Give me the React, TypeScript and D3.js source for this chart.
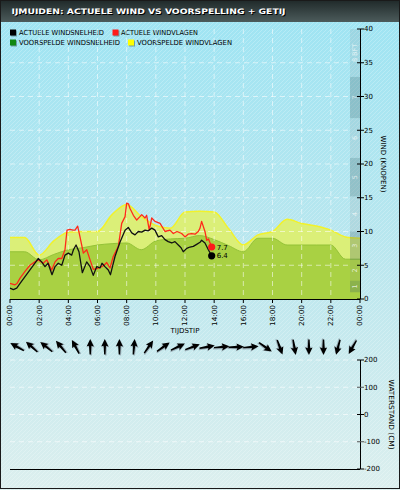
import React from "react";
import * as d3 from "d3";

// ---- data ----
const hourTicks = [0, 2, 4, 6, 8, 10, 12, 14, 16, 18, 20, 22, 24];
const hourTickLabels = ["00:00", "02:00", "04:00", "06:00", "08:00", "10:00", "12:00", "14:00", "16:00", "18:00", "20:00", "22:00", "00:00"];
const windTicks = [0, 5, 10, 15, 20, 25, 30, 35, 40];
const tideTicks = [-200, -100, 0, 100, 200];

const forecastHours = [0, 1, 2, 3, 4, 5, 6, 7, 8, 9, 10, 11, 12, 13, 14, 15, 16, 17, 18, 19, 20, 21, 22, 23, 24];
const forecastGust = [9.1, 9.1, 6.5, 8.6, 9.9, 10, 10, 12.5, 14.0, 12.2, 10.9, 10.5, 12.9, 13.0, 12.9, 10.4, 8.0, 9.5, 10, 11.8, 11.2, 10.8, 10.2, 9.2, 9.0];
const forecastWind = [7.0, 7.0, 5.8, 6.6, 7.3, 7.6, 8.0, 8.2, 8.3, 7.3, 8.6, 8.9, 9.0, 9.4, 8.8, 7.9, 7.0, 9.0, 9.0, 8.0, 8.0, 8.0, 8.0, 5.9, 5.9];

const actualWindHours = [0.00, 0.23, 0.46, 0.69, 1.03, 1.37, 1.71, 1.94, 2.17, 2.40, 2.61, 2.88, 3.09, 3.31, 3.55, 3.77, 4.00, 4.23, 4.35, 4.53, 4.73, 4.96, 5.26, 5.49, 5.71, 5.95, 6.17, 6.31, 6.51, 6.74, 6.89, 7.20, 7.54, 7.89, 8.11, 8.35, 8.57, 8.80, 9.03, 9.26, 9.48, 9.72, 9.94, 10.17, 10.40, 10.63, 10.85, 11.09, 11.31, 11.54, 11.73, 11.88, 12.12, 12.34, 12.57, 12.80, 13.03, 13.14, 13.37, 13.60, 13.83];
const actualWind = [1.6, 1.4, 1.6, 2.3, 3.3, 4.3, 5.3, 6.0, 5.5, 4.8, 5.3, 3.6, 4.8, 5.3, 5.0, 6.5, 6.8, 6.5, 7.3, 8.0, 7.0, 3.9, 5.5, 4.8, 3.5, 4.8, 4.6, 5.3, 4.8, 4.3, 3.6, 6.3, 8.4, 10.2, 10.6, 9.8, 9.5, 10.0, 9.9, 10.2, 10.1, 10.5, 10.2, 9.2, 9.4, 8.8, 8.5, 8.3, 8.5, 8.0, 7.6, 7.0, 7.5, 7.7, 7.8, 8.1, 8.4, 8.7, 8.3, 7.3, 6.4];

const actualGustHours = [0.00, 0.34, 0.48, 0.69, 1.03, 1.37, 1.71, 1.94, 2.28, 2.52, 2.86, 3.09, 3.31, 3.55, 3.77, 3.91, 4.11, 4.32, 4.46, 4.64, 4.80, 5.03, 5.26, 5.49, 5.71, 5.95, 6.29, 6.45, 6.63, 6.86, 7.08, 7.43, 7.66, 7.89, 8.00, 8.12, 8.23, 8.46, 8.69, 8.91, 9.03, 9.26, 9.37, 9.55, 9.72, 9.94, 10.29, 10.63, 10.97, 11.20, 11.45, 11.77, 12.00, 12.21, 12.46, 12.69, 12.91, 13.03, 13.14, 13.37, 13.49, 13.61, 13.83];
const actualGust = [2.3, 2.1, 2.3, 3.1, 4.1, 5.0, 5.5, 5.8, 5.3, 5.8, 4.3, 5.5, 6.0, 6.0, 7.3, 10.2, 10.3, 10.2, 10.2, 10.8, 9.2, 6.8, 7.3, 5.8, 4.4, 4.5, 4.8, 5.0, 5.4, 4.6, 6.3, 7.8, 11.2, 12.2, 14.2, 14.1, 13.4, 12.4, 11.7, 12.2, 12.5, 12.0, 12.4, 10.2, 12.0, 11.5, 11.2, 10.0, 10.2, 9.7, 10.0, 9.7, 9.2, 9.6, 9.7, 9.6, 10.0, 10.5, 11.5, 10.0, 8.7, 8.9, 7.7];

const arrowHours = [0.5, 1.5, 2.5, 3.5, 4.5, 5.5, 6.5, 7.5, 8.5, 9.5, 10.5, 11.5, 12.5, 13.5, 14.5, 15.5, 16.5, 17.5, 18.5, 19.5, 20.5, 21.5, 22.5, 23.5];
const arrowDirections = [299, 312, 309, 320, 332, 0, 0, 0, 5, 35, 55, 65, 70, 80, 85, 88, 85, 125, 160, 170, 180, 180, 195, 210];

const bftBounds = [1, 2.7, 5.8, 10, 15.2, 20.9, 26.8, 32.9, 40];
const bftLabels = ["1", "2", "3", "4", "5", "6", "7", "8 BFT"];

const legendLabels = ["ACTUELE WINDSNELHEID", "ACTUELE WINDVLAGEN", "VOORSPELDE WINDSNELHEID", "VOORSPELDE WINDVLAGEN"];
const titleText = "IJMUIDEN: ACTUELE WIND VS VOORSPELLING + GETIJ";

const FONT = "'DejaVu Sans', sans-serif";
const ARROW = "M0,-8 L3.6,-0.5 L1.2,-1.3 L0.7,7.5 L-0.7,7.5 L-1.2,-1.3 L-3.6,-0.5 Z";

export default function App() {
  const x = d3.scaleLinear().domain([0, 24]).range([10, 360]);
  const y = d3.scaleLinear().domain([0, 40]).range([299, 29]);
  const yt = d3.scaleLinear().domain([-200, 200]).range([469, 360]);

  const fc = forecastHours.map((h, i) => ({ h, g: forecastGust[i], w: forecastWind[i] }));
  const areaG = d3.area<any>().x(d => x(d.h)).y0(y(0)).y1(d => y(d.g)).curve(d3.curveMonotoneX);
  const areaW = d3.area<any>().x(d => x(d.h)).y0(y(0)).y1(d => y(d.w)).curve(d3.curveMonotoneX);
  const lineG = d3.line<any>().x(d => x(d.h)).y(d => y(d.g)).curve(d3.curveMonotoneX);
  const lineW = d3.line<any>().x(d => x(d.h)).y(d => y(d.w)).curve(d3.curveMonotoneX);

  const aw = actualWindHours.map((h, i) => [x(h), y(actualWind[i])] as [number, number]);
  const ag = actualGustHours.map((h, i) => [x(h), y(actualGust[i])] as [number, number]);
  const line = d3.line();
  const lastW = aw[aw.length - 1];
  const lastG = ag[ag.length - 1];

  const legendItems = [
    { c: "#000000", tx: 19, bx: 10, by: 29.5, ty: 35.3, len: 85, label: legendLabels[0] },
    { c: "#ff1a1a", tx: 121, bx: 112.5, by: 29.5, ty: 35.3, len: 77, label: legendLabels[1] },
    { c: "#118811", tx: 19, bx: 10, by: 39.5, ty: 45.3, len: 101, label: legendLabels[2] },
    { c: "#ffff00", tx: 137, bx: 128, by: 39.5, ty: 45.3, len: 95, label: legendLabels[3] },
  ];

  return (
    <svg width={400} height={490} style={{ position: "absolute", left: 0, top: 0 }} fontFamily={FONT}>
      <defs>
        <linearGradient id="bg" x1="0" y1="0" x2="0" y2="1">
          <stop offset="0" stopColor="#9de4f3" />
          <stop offset="0.55" stopColor="#bce7ee" />
          <stop offset="1" stopColor="#dcefee" />
        </linearGradient>
        <linearGradient id="hdr" x1="0" y1="0" x2="0" y2="1">
          <stop offset="0" stopColor="#1f2929" />
          <stop offset="1" stopColor="#4c5b5b" />
        </linearGradient>
        <pattern id="stripes" width={4} height={4} patternUnits="userSpaceOnUse">
          <path d="M-1,1 l2,-2 M0,4 l4,-4 M3,5 l2,-2" stroke="#ffffff" strokeOpacity={0.22} strokeWidth={1} />
        </pattern>
      </defs>

      {/* background */}
      <rect x={0} y={0} width={400} height={490} fill="url(#bg)" />
      <rect x={0} y={0} width={400} height={490} fill="url(#stripes)" />
      <rect x={0} y={0} width={400} height={22} fill="url(#hdr)" />
      <rect x={0.5} y={0.5} width={399} height={488} fill="none" stroke="#1a1a1a" strokeWidth={1} />

      {/* title */}
      <text x={12.5} y={14.5} fill="#000" fontSize={7.5} fontWeight="bold" textLength={274} lengthAdjust="spacingAndGlyphs">{titleText}</text>
      <text x={11.5} y={13.5} fill="#ffffff" fontSize={7.5} fontWeight="bold" textLength={274} lengthAdjust="spacingAndGlyphs">{titleText}</text>

      {/* legend */}
      {legendItems.map((d, i) => (
        <g key={i}>
          <rect x={d.bx + 1} y={d.by + 1} width={6} height={6} fill="#335555" opacity={0.5} />
          <rect x={d.bx} y={d.by} width={6} height={6} fill={d.c} />
          <text x={d.tx} y={d.ty} fontSize={7} fill="#000" textLength={d.len} lengthAdjust="spacingAndGlyphs">{d.label}</text>
        </g>
      ))}

      {/* forecast areas */}
      <path d={areaG(fc) || ""} fill="#dbef78" />
      <path d={lineG(fc) || ""} fill="none" stroke="#f2f22a" strokeWidth={1.5} />
      <path d={areaW(fc) || ""} fill="#a9d143" />
      <path d={lineW(fc) || ""} fill="none" stroke="#93c237" strokeWidth={1} />

      {/* bft bands */}
      {bftLabels.map((lab, i) => {
        const lo = bftBounds[i];
        const hi = i + 1 < bftBounds.length ? bftBounds[i + 1] : 40;
        const top = y(hi), bot = y(lo);
        const cy = (top + bot) / 2;
        const odd = i % 2 === 0;
        return (
          <g key={"b" + i}>
            <rect x={350} y={top} width={10} height={bot - top}
              fill={odd ? "#3c6066" : "#808888"} fillOpacity={odd ? 0.28 : 0.14} />
            <text transform={`translate(356.5,${cy}) rotate(-90)`} textAnchor="middle" fontSize={6.5}
              fill="#ffffff" fillOpacity={0.75}>{lab}</text>
          </g>
        );
      })}

      {/* grid */}
      {windTicks.slice(1, -1).map(t => (
        <line key={"gy" + t} x1={10} x2={350} y1={y(t)} y2={y(t)} stroke="#ffffff" strokeOpacity={0.55} strokeDasharray="5,4" />
      ))}
      {hourTicks.slice(1, -1).map(t => (
        <line key={"gx" + t} x1={x(t)} x2={x(t)} y1={29} y2={299} stroke="#ffffff" strokeOpacity={0.55} strokeDasharray="5,4" />
      ))}

      {/* actual lines */}
      <path d={line(ag) || ""} fill="none" stroke="#ff2a1a" strokeWidth={1.3} strokeLinejoin="round" />
      <path d={line(aw) || ""} fill="none" stroke="#111111" strokeWidth={1.3} strokeLinejoin="round" />
      <circle cx={lastG[0]} cy={lastG[1]} r={3.6} fill="#ff1a1a" />
      <circle cx={lastW[0]} cy={lastW[1]} r={3.6} fill="#000000" />
      <text x={lastG[0] + 5} y={lastG[1] + 2.5} fontSize={7} fill="#000">{actualGust[actualGust.length - 1].toFixed(1)}</text>
      <text x={lastW[0] + 5} y={lastW[1] + 2.5} fontSize={7} fill="#000">{actualWind[actualWind.length - 1].toFixed(1)}</text>

      {/* x axis */}
      <line x1={10} x2={360} y1={299.5} y2={299.5} stroke="#000" strokeWidth={1} />
      {hourTicks.map((t, i) => (
        <g key={"xt" + i}>
          <line x1={x(t)} x2={x(t)} y1={299} y2={303} stroke="#000" />
          <text transform={`translate(${x(t)},305) rotate(-90)`} textAnchor="end" dy="0.35em" fontSize={7}
            fill="#000" textLength={21} lengthAdjust="spacingAndGlyphs">{hourTickLabels[i]}</text>
        </g>
      ))}
      <text x={185} y={333} textAnchor="middle" fontSize={7} fill="#000">TIJDSTIP</text>

      {/* right wind axis */}
      <line x1={360.5} x2={360.5} y1={y(40)} y2={y(0)} stroke="#000" strokeWidth={1} />
      {windTicks.map(t => (
        <g key={"yt" + t}>
          <line x1={357} x2={364} y1={y(t)} y2={y(t)} stroke="#000" />
          <text x={364} y={y(t)} dy="0.35em" fontSize={7} fill="#000">{t}</text>
        </g>
      ))}
      <text transform={`translate(381,${y(20)}) rotate(90)`} textAnchor="middle" fontSize={7} fill="#000"
        textLength={57} lengthAdjust="spacingAndGlyphs">WIND (KNOPEN)</text>

      {/* wind direction arrows */}
      {arrowHours.map((h, i) => (
        <g key={"a" + i} transform={`translate(${x(h)},347) rotate(${arrowDirections[i]})`}>
          <path d={ARROW} fill="#445" opacity={0.35} transform="translate(1,1)" />
          <path d={ARROW} fill="#000" />
        </g>
      ))}

      {/* tide chart */}
      {tideTicks.slice(1).map(t => (
        <line key={"tg" + t} x1={10} x2={360} y1={yt(t)} y2={yt(t)} stroke="#ffffff" strokeOpacity={0.6} strokeDasharray="5,4" />
      ))}
      <line x1={10} x2={360} y1={469.5} y2={469.5} stroke="#000" strokeWidth={1} />
      <line x1={360.5} x2={360.5} y1={yt(200)} y2={yt(-200)} stroke="#000" strokeWidth={1} />
      {tideTicks.map(t => (
        <g key={"tt" + t}>
          <line x1={357} x2={364} y1={yt(t)} y2={yt(t)} stroke={Math.abs(t) === 100 ? "#555" : "#000"} />
          <text x={364} y={yt(t)} dy="0.35em" fontSize={7} fill="#000">{t}</text>
        </g>
      ))}
      <text transform={`translate(389,${yt(0)}) rotate(90)`} textAnchor="middle" fontSize={7} fill="#000"
        textLength={70} lengthAdjust="spacingAndGlyphs">WATERSTAND (CM)</text>
    </svg>
  );
}
